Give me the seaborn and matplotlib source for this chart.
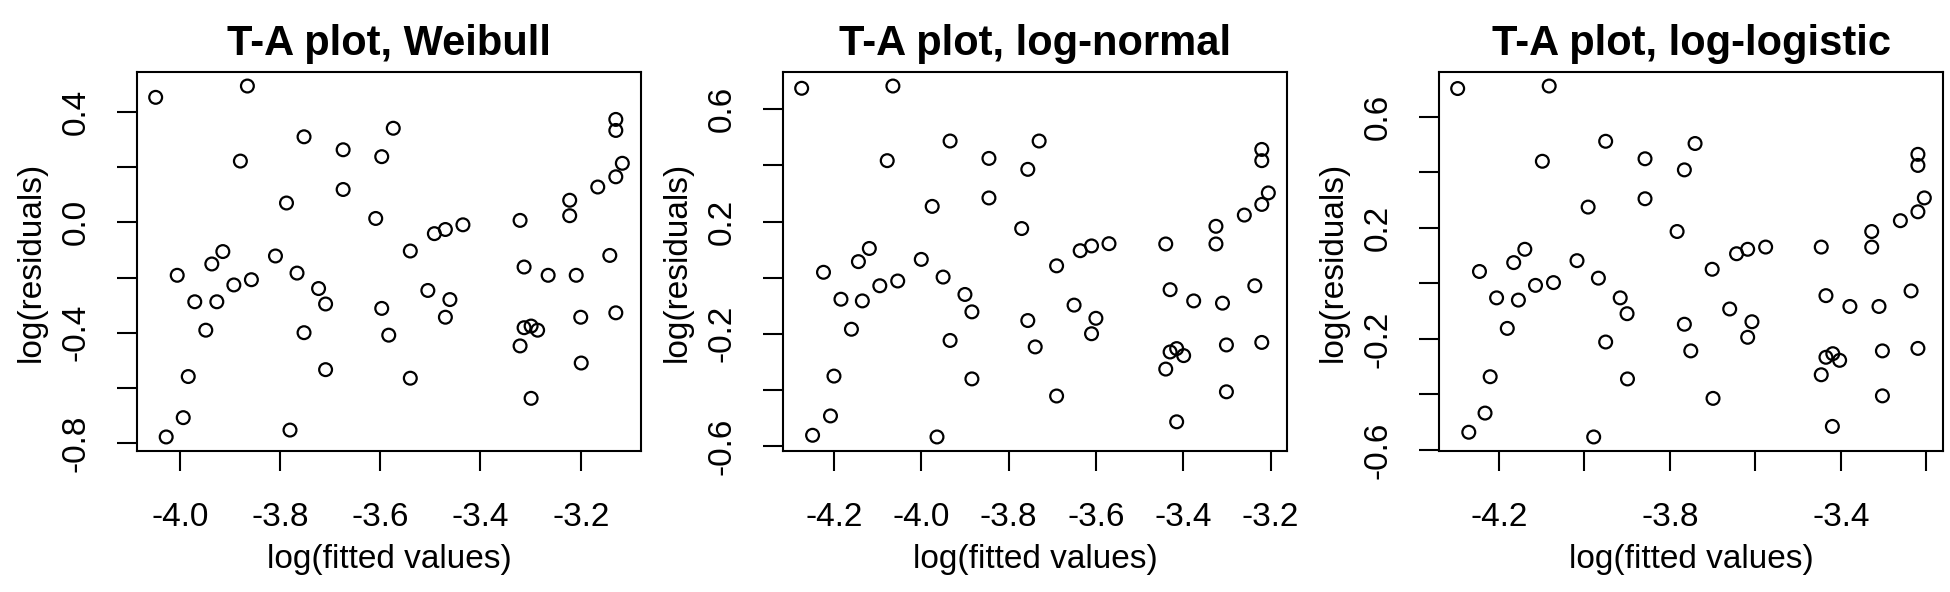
import numpy as np
import pandas as pd
import seaborn as sns
import matplotlib
matplotlib.use("Agg")
import matplotlib.pyplot as plt

# T-A plots (log residuals vs log fitted values) for three AFT models

weibull_x = [-4.048, -3.865, -3.752, -3.574, -3.674, -3.597, -3.879, -3.130, -3.130, -3.117,
             -3.130, -3.166, -3.674, -3.787, -3.222, -3.222, -3.609, -3.321, -3.492, -3.470,
             -3.435, -3.540, -3.914, -3.936, -4.005, -3.809, -3.766, -3.857, -3.892, -3.970,
             -3.926, -3.723, -3.709, -3.505, -3.461, -3.470, -3.597, -3.313, -3.265, -3.209,
             -3.142, -3.130, -3.200, -3.948, -3.752, -3.583, -3.313, -3.299, -3.286, -3.321,
             -3.199, -3.709, -3.983, -3.540, -3.299, -3.993, -3.780, -4.027]
weibull_y = [0.453, 0.494, 0.310, 0.341, 0.263, 0.238, 0.222, 0.373, 0.333, 0.214,
             0.165, 0.128, 0.119, 0.070, 0.080, 0.024, 0.014, 0.007, -0.041, -0.026,
             -0.009, -0.104, -0.106, -0.151, -0.192, -0.122, -0.184, -0.208, -0.227, -0.288,
             -0.288, -0.240, -0.296, -0.247, -0.280, -0.344, -0.312, -0.162, -0.192, -0.192,
             -0.120, -0.328, -0.344, -0.391, -0.400, -0.409, -0.382, -0.376, -0.391, -0.448,
             -0.510, -0.534, -0.559, -0.565, -0.638, -0.708, -0.753, -0.778]

lognormal_x = [-4.274, -4.065, -3.934, -3.730, -3.845, -3.756, -4.078, -3.220, -3.220, -3.205,
               -3.220, -3.260, -3.845, -3.975, -3.325, -3.325, -3.770, -3.440, -3.636, -3.610,
               -3.570, -3.690, -4.119, -4.144, -4.224, -4.000, -3.950, -4.054, -4.095, -4.184,
               -4.135, -3.900, -3.884, -3.650, -3.600, -3.610, -3.756, -3.430, -3.376, -3.310,
               -3.236, -3.220, -3.301, -4.160, -3.934, -3.739, -3.430, -3.415, -3.399, -3.440,
               -4.200, -3.884, -3.690, -3.301, -3.415, -4.208, -3.964, -4.249]
lognormal_y = [0.675, 0.683, 0.487, 0.487, 0.425, 0.386, 0.417, 0.457, 0.417, 0.302,
               0.261, 0.223, 0.284, 0.254, 0.183, 0.120, 0.175, 0.120, 0.096, 0.113,
               0.121, 0.042, 0.104, 0.057, 0.019, 0.065, 0.002, -0.012, -0.029, -0.077,
               -0.083, -0.060, -0.122, -0.098, -0.145, -0.200, -0.153, -0.043, -0.083, -0.091,
               -0.029, -0.231, -0.240, -0.184, -0.224, -0.247, -0.265, -0.253, -0.278, -0.326,
               -0.351, -0.361, -0.422, -0.407, -0.514, -0.493, -0.568, -0.562]

loglogistic_x = [-4.296, -4.082, -3.950, -3.741, -3.858, -3.766, -4.098, -3.220, -3.220, -3.205,
                 -3.220, -3.261, -3.858, -3.991, -3.328, -3.328, -3.783, -3.446, -3.644, -3.618,
                 -3.576, -3.701, -4.139, -4.165, -4.245, -4.017, -3.967, -4.072, -4.114, -4.205,
                 -4.154, -3.916, -3.900, -3.660, -3.608, -3.618, -3.766, -3.435, -3.379, -3.311,
                 -3.236, -3.220, -3.303, -4.180, -3.950, -3.751, -3.435, -3.419, -3.403, -3.446,
                 -4.220, -3.899, -3.699, -3.303, -3.420, -4.232, -3.978, -4.270]
loglogistic_y = [0.702, 0.711, 0.512, 0.504, 0.449, 0.409, 0.440, 0.465, 0.425, 0.308,
                 0.258, 0.226, 0.305, 0.275, 0.187, 0.131, 0.187, 0.131, 0.107, 0.123,
                 0.131, 0.051, 0.123, 0.075, 0.043, 0.082, 0.019, 0.003, -0.007, -0.052,
                 -0.060, -0.052, -0.109, -0.092, -0.138, -0.194, -0.147, -0.044, -0.083, -0.083,
                 -0.027, -0.234, -0.243, -0.162, -0.211, -0.243, -0.266, -0.253, -0.277, -0.329,
                 -0.336, -0.344, -0.414, -0.405, -0.515, -0.467, -0.553, -0.536]

titles = ["T-A plot, Weibull", "T-A plot, log-normal", "T-A plot, log-logistic"]

xticks = [[-4.0, -3.8, -3.6, -3.4, -3.2],
          [-4.2, -4.0, -3.8, -3.6, -3.4, -3.2],
          [-4.2, -4.0, -3.8, -3.6, -3.4, -3.2]]
xticklabels = [["-4.0", "-3.8", "-3.6", "-3.4", "-3.2"],
               ["-4.2", "-4.0", "-3.8", "-3.6", "-3.4", "-3.2"],
               ["-4.2", "", "-3.8", "", "-3.4", ""]]
yticks = [[-0.8, -0.6, -0.4, -0.2, 0.0, 0.2, 0.4],
          [-0.6, -0.4, -0.2, 0.0, 0.2, 0.4, 0.6],
          [-0.6, -0.4, -0.2, 0.0, 0.2, 0.4, 0.6]]
yticklabels = [["-0.8", "", "-0.4", "", "0.0", "", "0.4"],
               ["-0.6", "", "-0.2", "", "0.2", "", "0.6"],
               ["-0.6", "", "-0.2", "", "0.2", "", "0.6"]]

sns.set_style("ticks")
plt.rcParams['font.family'] = ['Liberation Sans', 'DejaVu Sans']
plt.rcParams['axes.unicode_minus'] = False
plt.rcParams['text.color'] = 'black'
plt.rcParams['axes.labelcolor'] = 'black'
plt.rcParams['xtick.color'] = 'black'
plt.rcParams['ytick.color'] = 'black'

W, H = 1950, 592
fig = plt.figure(figsize=(W / 100, H / 100), dpi=100)

lefts = [137, 783, 1439]
ax_w = 504
top, bottom = 72, 451

panels = [(weibull_x, weibull_y), (lognormal_x, lognormal_y), (loglogistic_x, loglogistic_y)]

for i, (xs, ys) in enumerate(panels):
    ax = fig.add_axes([lefts[i] / W, 1 - bottom / H, ax_w / W, (bottom - top) / H])
    df = pd.DataFrame({"fitted": xs, "resid": ys})
    sns.scatterplot(data=df, x="fitted", y="resid", ax=ax, marker="o", s=85,
                    facecolor="none", edgecolor="black", linewidth=1.6)
    ax.margins(0.04)
    ax.set_xticks(xticks[i])
    ax.set_xticklabels(xticklabels[i], fontsize=24, color="black")
    ax.set_yticks(yticks[i])
    ax.set_yticklabels(yticklabels[i], fontsize=24, rotation=90, va="center", color="black")
    ax.tick_params(axis="both", direction="out", length=14.5, width=1.5, color="black")
    ax.tick_params(axis="x", pad=22)
    ax.tick_params(axis="y", pad=18)
    for sp in ax.spines.values():
        sp.set_visible(True)
        sp.set_linewidth(1.5)
        sp.set_color("black")
    ax.set_xlabel("log(fitted values)", fontsize=24, labelpad=8, color="black")
    ax.set_ylabel("log(residuals)", fontsize=24, labelpad=10, color="black")
    ax.set_title(titles[i], fontsize=30, fontweight="bold", pad=12, color="black")

fig.savefig("out.png", dpi=100)
